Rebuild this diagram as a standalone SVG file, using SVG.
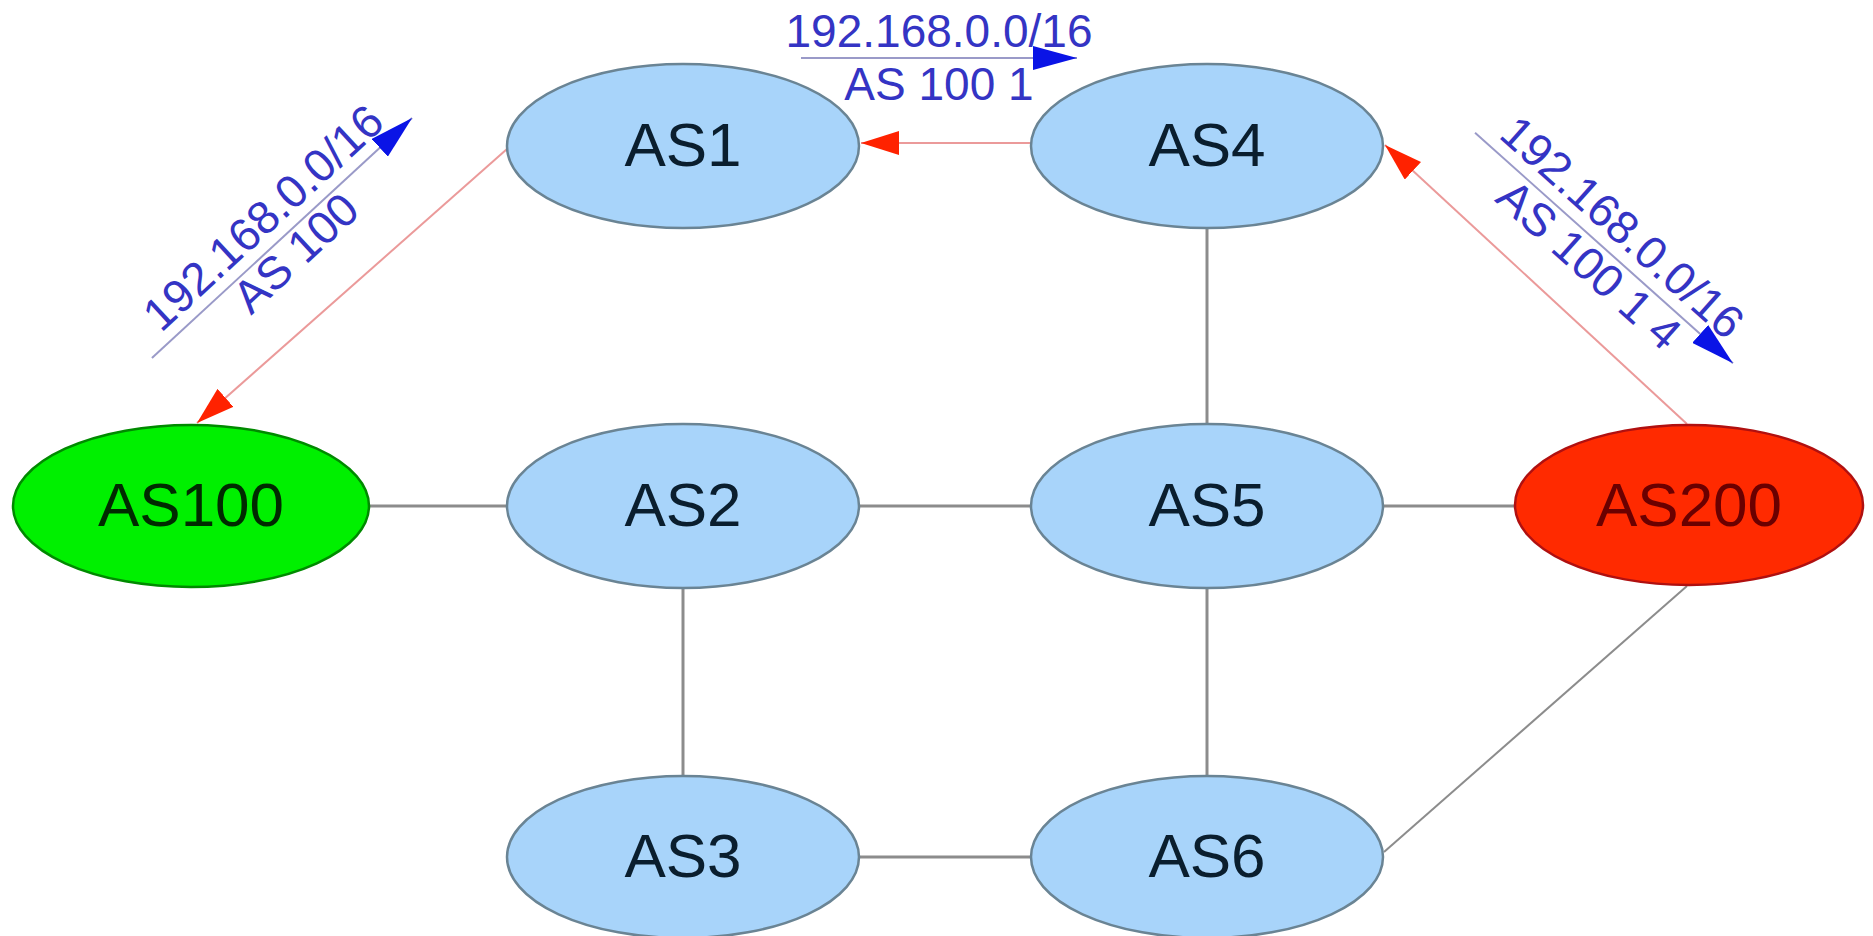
<svg xmlns="http://www.w3.org/2000/svg" width="1873" height="936" viewBox="0 0 1873 936">
<style>
  .node ellipse { fill: #a8d4fa; stroke: #6a8494; stroke-width: 2.5; }
  .node text { font-family: "Liberation Sans", Arial, sans-serif; font-size: 62px; text-anchor: middle; fill: #0a1e2e; }
  #as100 ellipse { fill: #00f000; stroke: #008a00; }
  #as100 text { fill: #002a00; }
  #as200 ellipse { fill: #ff2a00; stroke: #b01010; }
  #as200 text { fill: #6a0000; }
  .link { stroke: #8c8c8c; stroke-width: 3; fill: none; }
  .thin { stroke-width: 2; }
  .adv { stroke: #eb9a9a; stroke-width: 2; fill: none; marker-end: url(#redhead); }
  .lbl line { stroke: #9a9ac8; stroke-width: 2; marker-end: url(#bluehead); }
  .lbl text { font-family: "Liberation Sans", Arial, sans-serif; font-size: 46px; text-anchor: middle; fill: #3434c4; }
</style>
<defs>
  <marker id="redhead" viewBox="0 0 38 24" refX="38" refY="12" markerWidth="38" markerHeight="24" markerUnits="userSpaceOnUse" orient="auto">
    <path d="M0,0 L38,12 L0,24 z" fill="#ff2200"/>
  </marker>
  <marker id="bluehead" viewBox="0 0 44 24" refX="44" refY="12" markerWidth="44" markerHeight="24" markerUnits="userSpaceOnUse" orient="auto">
    <path d="M0,0 L44,12 L0,24 z" fill="#0a14e6"/>
  </marker>
</defs>
<rect width="1873" height="936" fill="#ffffff"/>

<g id="connectors">
  <line class="link" x1="369" y1="506" x2="507" y2="506"/>
  <line class="link" x1="859" y1="506" x2="1031" y2="506"/>
  <line class="link" x1="1383" y1="506" x2="1515" y2="506"/>
  <line class="link" x1="1207" y1="228" x2="1207" y2="424"/>
  <line class="link" x1="683" y1="588" x2="683" y2="775"/>
  <line class="link" x1="1207" y1="588" x2="1207" y2="775"/>
  <line class="link" x1="859" y1="857" x2="1031" y2="857"/>
  <line class="link thin" x1="1687" y1="586" x2="1384" y2="852"/>
  <line class="adv" x1="1031" y1="143" x2="861" y2="143"/>
  <line class="adv" x1="507" y1="149" x2="197" y2="423"/>
  <line class="adv" x1="1687" y1="424" x2="1385" y2="145"/>
</g>

<g id="labels">
  <g class="lbl" id="label-top">
    <line x1="801" y1="58" x2="1077" y2="58"/>
    <text x="939" y="47">192.168.0.0/16</text>
    <text x="939" y="100">AS 100 1</text>
  </g>
  <g class="lbl" id="label-left" transform="translate(282,238) rotate(-42.7)">
    <line x1="-177" y1="0" x2="177" y2="0"/>
    <text x="0" y="-12">192.168.0.0/16</text>
    <text x="0" y="36">AS 100</text>
  </g>
  <g class="lbl" id="label-right" transform="translate(1604,248) rotate(41.8)">
    <line x1="-173" y1="0" x2="173" y2="0"/>
    <text x="0" y="-12">192.168.0.0/16</text>
    <text x="0" y="38">AS 100 1 4</text>
  </g>
</g>

<g class="node" id="as1"><ellipse cx="683" cy="146" rx="176" ry="82"/><text x="683" y="166">AS1</text></g>
<g class="node" id="as4"><ellipse cx="1207" cy="146" rx="176" ry="82"/><text x="1207" y="166">AS4</text></g>
<g class="node" id="as100"><ellipse cx="191" cy="506" rx="178" ry="81"/><text x="191" y="526">AS100</text></g>
<g class="node" id="as2"><ellipse cx="683" cy="506" rx="176" ry="82"/><text x="683" y="526">AS2</text></g>
<g class="node" id="as5"><ellipse cx="1207" cy="506" rx="176" ry="82"/><text x="1207" y="526">AS5</text></g>
<g class="node" id="as200"><ellipse cx="1689" cy="505" rx="174" ry="80"/><text x="1689" y="526">AS200</text></g>
<g class="node" id="as3"><ellipse cx="683" cy="857" rx="176" ry="81"/><text x="683" y="877">AS3</text></g>
<g class="node" id="as6"><ellipse cx="1207" cy="857" rx="176" ry="81"/><text x="1207" y="877">AS6</text></g>
</svg>
